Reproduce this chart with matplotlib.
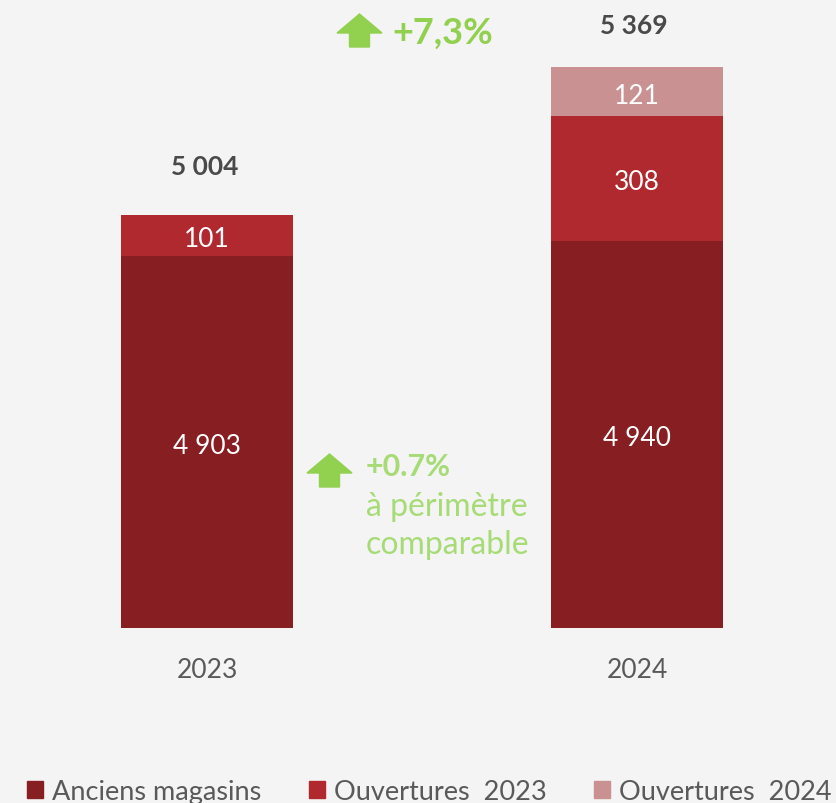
"""Chiffre d'affaires 2023 vs 2024, barres empilees"""

import numpy as np
import matplotlib
matplotlib.use("Agg")
import matplotlib.pyplot as plt
from matplotlib.patches import Patch, FancyArrow
from matplotlib.transforms import IdentityTransform

years = ["2023", "2024"]
anciens = [4903, 4940]
ouv_2023 = [101, 308]
ouv_2024 = [0, 121]
totals = [5004, 5369]
total_labels = ["5 004", "5 369"]
anciens_labels = ["4 903", "4 940"]
ouv_2023_labels = ["101", "308"]
ouv_2024_labels = ["", "121"]
series_names = ["Anciens magasins", "Ouvertures  2023", "Ouvertures  2024"]

c_old = "#861e22"
c_2023 = "#b0292f"
c_2024 = "#c99192"
green = "#92d050"
green_light = "#a6db75"
bg = "#f4f4f4"

plt.rcParams["font.family"] = ["Lato", "DejaVu Sans"]

# axe casse : echelle comprimee sous le seuil, dilatee au-dessus
BREAK = 4900
LOW, HIGH = 0.0757, 0.405


def fwd(y):
    y = np.asarray(y, dtype=float)
    return np.where(y <= BREAK, y * LOW, BREAK * LOW + (y - BREAK) * HIGH)


def inv(v):
    v = np.asarray(v, dtype=float)
    return np.where(v <= BREAK * LOW, v / LOW, BREAK + (v - BREAK * LOW) / HIGH)


fig = plt.figure(figsize=(8.36, 8.04), dpi=100, facecolor=bg)
ax = fig.add_axes([0, 175 / 804, 1, 629 / 804], facecolor=bg)
ax.set_yscale("function", functions=(fwd, inv))

x = np.arange(len(years))
w = 0.4
bottom2 = np.array(anciens)
bottom3 = bottom2 + np.array(ouv_2023)

ax.bar(x, anciens, w, color=c_old)
ax.bar(x, ouv_2023, w, bottom=bottom2, color=c_2023)
ax.bar(x, ouv_2024, w, bottom=bottom3, color=c_2024)

# etiquettes au centre de chaque segment
for bots, vals, labels in [(np.zeros(2), anciens, anciens_labels),
                           (bottom2, ouv_2023, ouv_2023_labels),
                           (bottom3, ouv_2024, ouv_2024_labels)]:
    for xi, b, v, lab in zip(x, bots, vals, labels):
        if not lab:
            continue
        mid = float(inv((fwd(b) + fwd(b + v)) / 2))
        ax.annotate(lab, (xi, mid), xytext=(0, -2.5), textcoords="offset points",
                    ha="center", va="center", color="white", fontsize=19)

for xi, t, lab, off in zip(x, totals, total_labels, [35.5, 30.5]):
    ax.annotate(lab, (xi, t), xytext=(-2, off), textcoords="offset points",
                ha="center", va="center", fontsize=19, fontweight="bold", color="#4a4a4a")

ax.set_xlim(-207 / 430, (836 - 207) / 430)
ax.set_ylim(0, float(inv(629)))
ax.set_xticks(x, years)
ax.tick_params(axis="x", length=0, pad=21, labelsize=19, labelcolor="#595959")
ax.set_yticks([])
ax.minorticks_off()
for s in ax.spines.values():
    s.set_visible(False)

# fleches vertes et variations
for ax_x, top_y in [(359.5, 15), (329.5, 455)]:
    arr = FancyArrow(ax_x, 804 - top_y - 33, 0, 33, width=20, head_width=45,
                     head_length=19, length_includes_head=True, color=green,
                     transform=IdentityTransform())
    fig.add_artist(arr)

fig.text(392 / 836, 1 - 33 / 804, "+7,3%", color=green, fontsize=26,
         fontweight="bold", ha="left", va="center")
fig.text(366 / 836, 1 - 467 / 804, "+0.7%", color=green_light, fontsize=22,
         fontweight="bold", ha="left", va="center")
fig.text(366 / 836, 1 - 507 / 804, "à périmètre", color=green_light, fontsize=23,
         ha="left", va="center")
fig.text(366 / 836, 1 - 545 / 804, "comparable", color=green_light, fontsize=23,
         ha="left", va="center")

handles = [Patch(color=c) for c in [c_old, c_2023, c_2024]]
fig.legend(handles, series_names, loc="upper left", bbox_to_anchor=(27 / 836, 1 - 780 / 804),
           ncol=3, frameon=False, fontsize=19.5, labelcolor="#595959",
           handlelength=0.6, handleheight=0.6, handletextpad=0.33,
           columnspacing=1.75, borderaxespad=0, borderpad=0)

fig.savefig("out.png", dpi=100, facecolor=bg)
